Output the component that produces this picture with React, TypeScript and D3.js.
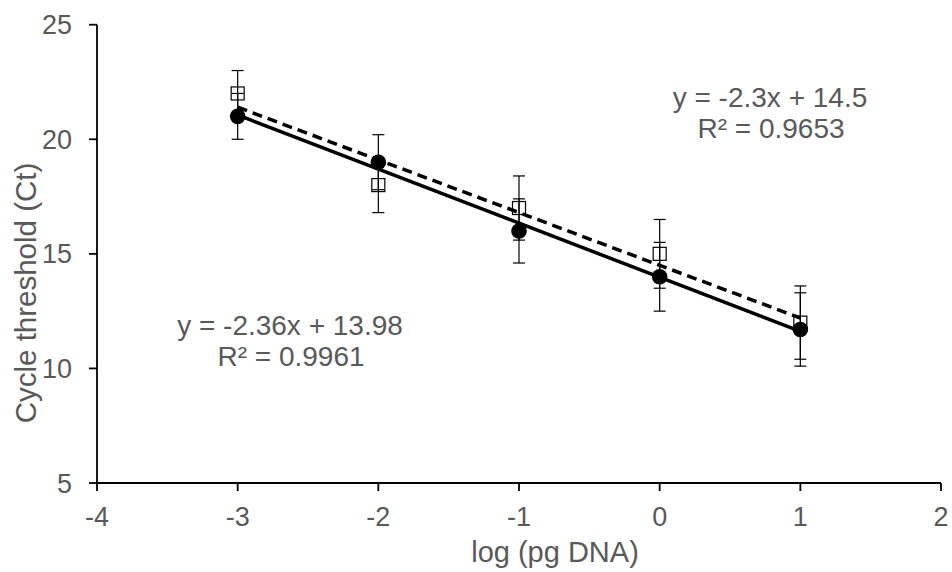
import React from "react";
import * as d3 from "d3";

const xValues = [-3, -2, -1, 0, 1];
const circleCt = [21, 19, 16, 14, 11.7];
const squareCt = [22, 18, 17, 15, 12];
const errValues = [1, 1.2, 1.4, 1.5, 1.6];
const xTicks = [-4, -3, -2, -1, 0, 1, 2];
const yTicks = [5, 10, 15, 20, 25];
const circleFit = { slope: -2.36, intercept: 13.98, label: "y = -2.36x + 13.98", r2: "R² = 0.9961" };
const squareFit = { slope: -2.3, intercept: 14.5, label: "y = -2.3x + 14.5", r2: "R² = 0.9653" };

const W = 952;
const H = 572;
const TXT = "#595959";
const FONT = "'Liberation Sans', Arial, sans-serif";

export default function App() {
  const x = d3.scaleLinear().domain([-4, 2]).range([97, 941]);
  const y = d3.scaleLinear().domain([5, 25]).range([483, 24.7]);
  const fitPath = (f: { slope: number; intercept: number }) =>
    d3
      .line<number>()
      .x((d) => x(d))
      .y((d) => y(f.slope * d + f.intercept))([-3, 1]) || "";
  const cap = 6;
  const sq = 13;
  const errBars = (vals: number[]) =>
    xValues.map((xv, i) => {
      const cx = x(xv);
      const top = y(vals[i] + errValues[i]);
      const bot = y(vals[i] - errValues[i]);
      return (
        <g key={i} stroke="#000" strokeWidth={1.2}>
          <line x1={cx} x2={cx} y1={top} y2={bot} />
          <line x1={cx - cap} x2={cx + cap} y1={top} y2={top} />
          <line x1={cx - cap} x2={cx + cap} y1={bot} y2={bot} />
        </g>
      );
    });
  return (
    <svg width={W} height={H} style={{ position: "absolute", left: 0, top: 0 }}>
      <rect width={W} height={H} fill="#fff" />
      <g stroke="#000" strokeWidth={1.8} fill="none">
        <line x1={x(-4)} x2={x(2)} y1={y(5)} y2={y(5)} />
        <line x1={x(-4)} x2={x(-4)} y1={y(5)} y2={y(25)} />
        {yTicks.map((t) => (
          <line key={"yt" + t} x1={x(-4) - 8} x2={x(-4)} y1={y(t)} y2={y(t)} />
        ))}
        {xTicks.map((t) => (
          <line key={"xt" + t} x1={x(t)} x2={x(t)} y1={y(5)} y2={y(5) + 8} />
        ))}
      </g>
      <g fill={TXT} fontFamily={FONT} fontSize={27}>
        {yTicks.map((t) => (
          <text key={"yl" + t} x={72} y={y(t) + 9.5} textAnchor="end">
            {t}
          </text>
        ))}
        {xTicks.map((t) => (
          <text key={"xl" + t} x={x(t)} y={526} textAnchor="middle">
            {t}
          </text>
        ))}
      </g>
      <text x={555} y={562} textAnchor="middle" fill={TXT} fontFamily={FONT} fontSize={29}>
        log (pg DNA)
      </text>
      <text
        transform={`translate(36,293) rotate(-90)`}
        textAnchor="middle"
        fill={TXT}
        fontFamily={FONT}
        fontSize={29.5}
      >
        Cycle threshold (Ct)
      </text>
      {errBars(squareCt)}
      {errBars(circleCt)}
      {xValues.map((xv, i) => (
        <rect
          key={"s" + i}
          x={x(xv) - sq / 2}
          y={y(squareCt[i]) - sq / 2}
          width={sq}
          height={sq}
          fill="none"
          stroke="#000"
          strokeWidth={1.2}
        />
      ))}
      {xValues.map((xv, i) => (
        <circle key={"c" + i} cx={x(xv)} cy={y(circleCt[i])} r={7.8} fill="#000" />
      ))}
      <path d={fitPath(circleFit)} stroke="#000" strokeWidth={3.5} fill="none" />
      <path d={fitPath(squareFit)} stroke="#000" strokeWidth={3.5} fill="none" strokeDasharray="10,6" />
      <g fill={TXT} fontFamily={FONT} fontSize={28} textAnchor="middle">
        <text x={770} y={107}>{squareFit.label}</text>
        <text x={771} y={138}>{squareFit.r2}</text>
        <text x={290} y={335}>{circleFit.label}</text>
        <text x={291} y={366}>{circleFit.r2}</text>
      </g>
    </svg>
  );
}
